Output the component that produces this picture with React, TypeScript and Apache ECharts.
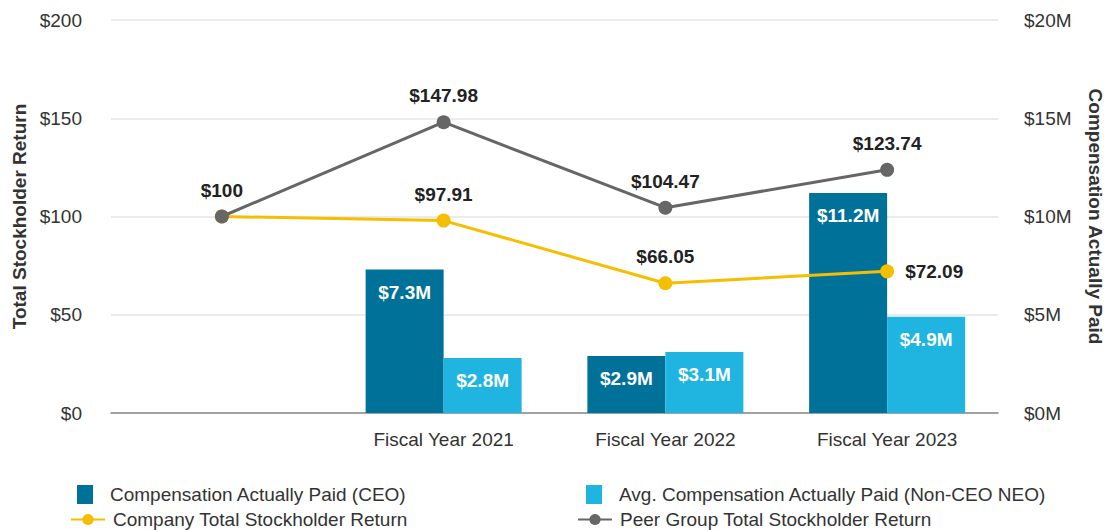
import React, { useEffect, useRef } from "react";
import * as echarts from "echarts";

const categories = ["", "Fiscal Year 2021", "Fiscal Year 2022", "Fiscal Year 2023"];
const ceoComp = [null, 7.3, 2.9, 11.2];
const neoComp = [null, 2.8, 3.1, 4.9];
const companyTSR = [100, 97.91, 66.05, 72.09];
const peerTSR = [100, 147.98, 104.47, 123.74];

const FONT = "'Liberation Sans', Arial, sans-serif";
const CEO_COLOR = "#00729A";
const NEO_COLOR = "#1FB5E0";
const CO_COLOR = "#F6BE00";
const PEER_COLOR = "#666666";
const FS = 19;

const NAMES = {
  ceo: "Compensation Actually Paid (CEO)",
  neo: "Avg. Compensation Actually Paid (Non-CEO NEO)",
  co: "Company Total Stockholder Return",
  peer: "Peer Group Total Stockholder Return",
};

export default function App() {
  const ref = useRef<HTMLDivElement>(null);
  useEffect(() => {
    if (!ref.current) return;
    const chart = echarts.init(ref.current, null, { renderer: "svg" });
    const legendText = { fontFamily: FONT, fontSize: FS, color: "#333" };
    const mkLegend = (name: string, left: number, top: number, isBar: boolean) => ({
      data: [name],
      left,
      top,
      padding: 0,
      itemWidth: isBar ? 16 : 34,
      itemHeight: isBar ? 19 : 14,
      icon: isBar ? "rect" : undefined,
      selectedMode: false,
      textStyle: { ...legendText, padding: isBar ? [0, 0, 0, 12] : [0, 0, 0, 3] },
    });
    const valueLabel = (pos: string, dist: number) => ({
      show: true,
      position: pos,
      distance: dist,
      fontFamily: FONT,
      fontSize: FS,
      fontWeight: "bold",
      color: "#222",
      formatter: (p: any) => "$" + p.value,
    });
    const barLabel = {
      show: true,
      position: "insideTop",
      distance: 13,
      fontFamily: FONT,
      fontSize: FS,
      fontWeight: "bold",
      color: "#fff",
      formatter: (p: any) => "$" + p.value + "M",
    };
    chart.setOption({
      animation: false,
      textStyle: { fontFamily: FONT },
      grid: { left: 111, right: 111, top: 20, bottom: 117, outerBoundsMode: "none", containLabel: false },
      legend: [
        mkLegend(NAMES.ceo, 77, 485, true),
        mkLegend(NAMES.neo, 586, 485, true),
        mkLegend(NAMES.co, 70, 510, false),
        mkLegend(NAMES.peer, 577, 510, false),
      ],
      xAxis: {
        type: "category",
        data: categories,
        axisTick: { show: false },
        axisLine: { lineStyle: { color: "#8a8a8a", width: 1.5 } },
        axisLabel: { fontFamily: FONT, fontSize: FS, color: "#333", margin: 17 },
      },
      yAxis: [
        {
          type: "value",
          min: 0,
          max: 200,
          interval: 50,
          name: "Total Stockholder Return",
          nameLocation: "middle",
          nameGap: 82,
          nameRotate: 90,
          nameTextStyle: { fontFamily: FONT, fontSize: FS, fontWeight: "bold", color: "#333" },
          axisLabel: {
            fontFamily: FONT,
            fontSize: FS,
            color: "#333",
            margin: 29,
            formatter: (v: number) => "$" + v,
          },
          splitLine: { lineStyle: { color: "#e4e4e4", width: 1.5 } },
        },
        {
          type: "value",
          min: 0,
          max: 20,
          interval: 5,
          name: "Compensation Actually Paid",
          nameLocation: "middle",
          nameGap: 88,
          nameRotate: -90,
          nameTextStyle: { fontFamily: FONT, fontSize: FS, fontWeight: "bold", color: "#333" },
          axisLabel: {
            fontFamily: FONT,
            fontSize: FS,
            color: "#333",
            margin: 26,
            formatter: (v: number) => "$" + v + "M",
          },
          splitLine: { show: false },
        },
      ],
      series: [
        {
          name: NAMES.ceo,
          type: "bar",
          yAxisIndex: 1,
          data: ceoComp,
          barWidth: 78,
          barGap: "0%",
          itemStyle: { color: CEO_COLOR },
          label: barLabel,
        },
        {
          name: NAMES.neo,
          type: "bar",
          yAxisIndex: 1,
          data: neoComp,
          barWidth: 78,
          barGap: "0%",
          itemStyle: { color: NEO_COLOR },
          label: barLabel,
        },
        {
          name: NAMES.co,
          type: "line",
          yAxisIndex: 0,
          data: companyTSR.map((v, i) =>
            i === 0
              ? { value: v, label: { show: false } }
              : i === 3
              ? { value: v, label: { position: "right", distance: 11 } }
              : v
          ),
          symbol: "circle",
          symbolSize: 14,
          lineStyle: { color: CO_COLOR, width: 3 },
          itemStyle: { color: CO_COLOR },
          label: valueLabel("top", 10),
          z: 3,
        },
        {
          name: NAMES.peer,
          type: "line",
          yAxisIndex: 0,
          data: peerTSR,
          symbol: "circle",
          symbolSize: 14,
          lineStyle: { color: PEER_COLOR, width: 3 },
          itemStyle: { color: PEER_COLOR },
          label: valueLabel("top", 10),
          z: 4,
        },
      ],
    });
    return () => chart.dispose();
  }, []);
  return <div ref={ref} style={{ width: 1109, height: 530, position: "absolute", left: 0, top: 0 }} />;
}
